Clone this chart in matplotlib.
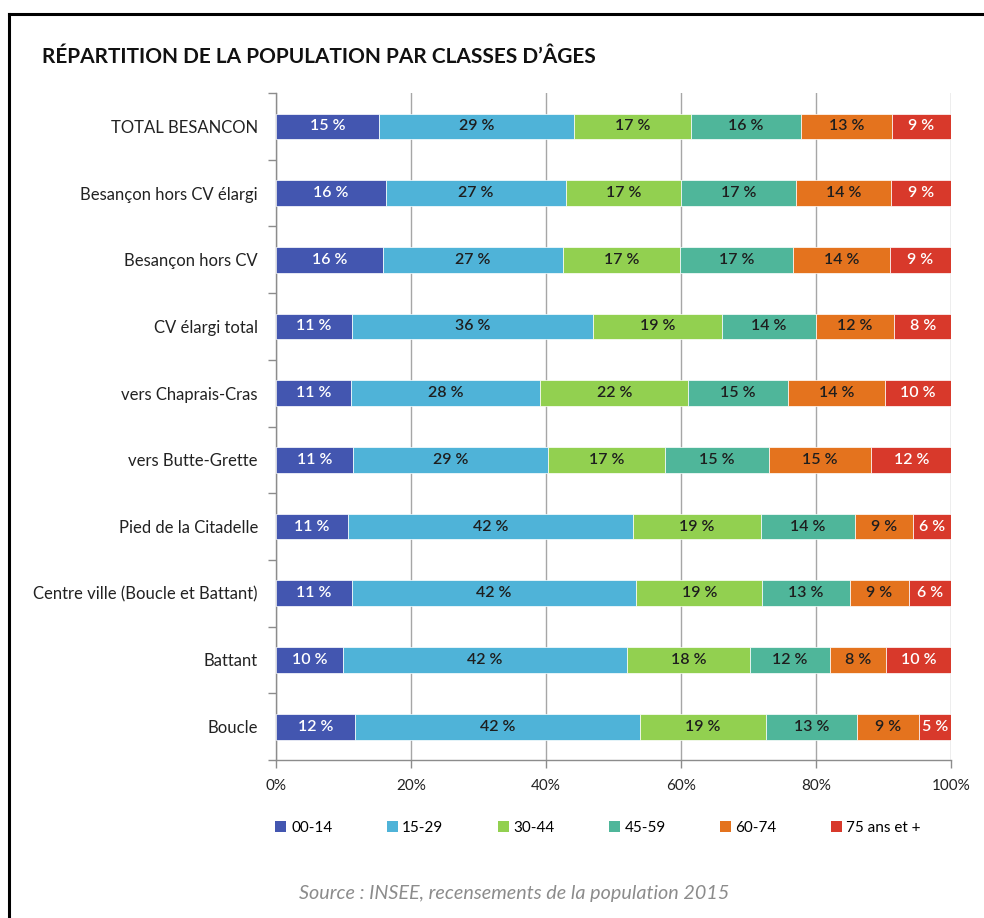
import matplotlib.pyplot as plt
import numpy as np
from matplotlib.patches import Patch
from matplotlib.lines import Line2D

plt.rcParams['font.family'] = ['Lato', 'DejaVu Sans']

zones = ['TOTAL BESANCON', 'Besançon hors CV élargi', 'Besançon hors CV',
         'CV élargi total', 'vers Chaprais-Cras', 'vers Butte-Grette',
         'Pied de la Citadelle', 'Centre ville (Boucle et Battant)',
         'Battant', 'Boucle']
classes = ['00-14', '15-29', '30-44', '45-59', '60-74', '75 ans et +']

# shares (%) per zone, one list per age class
age_00_14 = [15.3, 16.3, 15.8, 11.3, 11.1, 11.4, 10.7, 11.2, 9.9, 11.7]
age_15_29 = [28.8, 26.6, 26.7, 35.7, 28.0, 28.9, 42.2, 42.2, 42.1, 42.2]
age_30_44 = [17.4, 17.1, 17.3, 19.0, 22.0, 17.3, 18.9, 18.6, 18.2, 18.7]
age_45_59 = [16.3, 17.1, 16.8, 14.0, 14.7, 15.4, 14.0, 13.0, 11.9, 13.4]
age_60_74 = [13.4, 14.0, 14.3, 11.6, 14.4, 15.2, 8.6, 8.8, 8.2, 9.2]
age_75_plus = [8.8, 8.9, 9.1, 8.4, 9.8, 11.8, 5.6, 6.2, 9.7, 4.8]

series = [age_00_14, age_15_29, age_30_44, age_45_59, age_60_74, age_75_plus]
colors = ['#4356B0', '#4FB3D8', '#92D050', '#4FB69A', '#E4731E', '#D8392B']
text_colors = ['white', '#1E1E1E', '#1E1E1E', '#1E1E1E', '#1E1E1E', 'white']

fig = plt.figure(figsize=(9.84, 9.18), dpi=100)
ax = fig.add_axes([0.2805, 0.1721, 0.686, 0.7266])

y = np.arange(len(zones))
left = np.zeros(len(zones))
for vals, col, tcol, name in zip(series, colors, text_colors, classes):
    vals = np.array(vals)
    ax.barh(y, vals, left=left, height=0.385, color=col,
            edgecolor='white', linewidth=0.5, label=name, zorder=3)
    for yi, l, v in zip(y, left, vals):
        ax.text(l + v / 2, yi, f'{round(v):d} %', ha='center', va='center',
                color=tcol, fontsize=11.5, fontweight='semibold', zorder=4)
    left += vals

ax.set_xlim(0, 100)
ax.set_ylim(len(zones) - 0.5, -0.5)
ax.set_xticks(np.arange(0, 101, 20))
ax.set_xticklabels([f'{t}%' for t in range(0, 101, 20)], fontsize=11, color='#222222')
ax.set_yticks(y)
ax.set_yticklabels(zones, fontsize=12, color='#222222')
ax.set_yticks(np.arange(-0.5, len(zones) + 0.5, 1), minor=True)
ax.tick_params(axis='y', which='major', length=0, pad=13)
ax.tick_params(axis='y', which='minor', length=6, color='#8C8C8C', width=1)
ax.tick_params(axis='x', length=6, color='#8C8C8C', width=1, pad=8)
ax.grid(axis='x', color='#A6A6A6', linewidth=1, zorder=0)
for s in ['top', 'right']:
    ax.spines[s].set_visible(False)
for s in ['left', 'bottom']:
    ax.spines[s].set_color('#8C8C8C')
    ax.spines[s].set_linewidth(1)

handles = [Patch(facecolor=c, edgecolor='none') for c in colors]
fig.legend(handles, classes, loc='center left', bbox_to_anchor=(0.266, 0.098),
           ncol=6, frameon=False, fontsize=11, handlelength=0.72,
           handleheight=0.72, handletextpad=0.3, columnspacing=3.55)

fig.text(0.043, 0.938, 'RÉPARTITION DE LA POPULATION PAR CLASSES D\u2019ÂGES',
         fontsize=15, fontweight='bold', color='#111111', va='center')
fig.text(0.523, 0.027, 'Source : INSEE, recensements de la population 2015',
         fontsize=14.2, style='italic', color='#8C8C8C', ha='center', va='center')

# frame lines of the original document
fig.add_artist(Line2D([0.0091, 0.0091], [0, 0.985], color='black', linewidth=2.2,
                      transform=fig.transFigure))
fig.add_artist(Line2D([0.0091, 1.0], [0.985, 0.985], color='black', linewidth=2.2,
                      transform=fig.transFigure))

fig.savefig('out.png', dpi=100)
